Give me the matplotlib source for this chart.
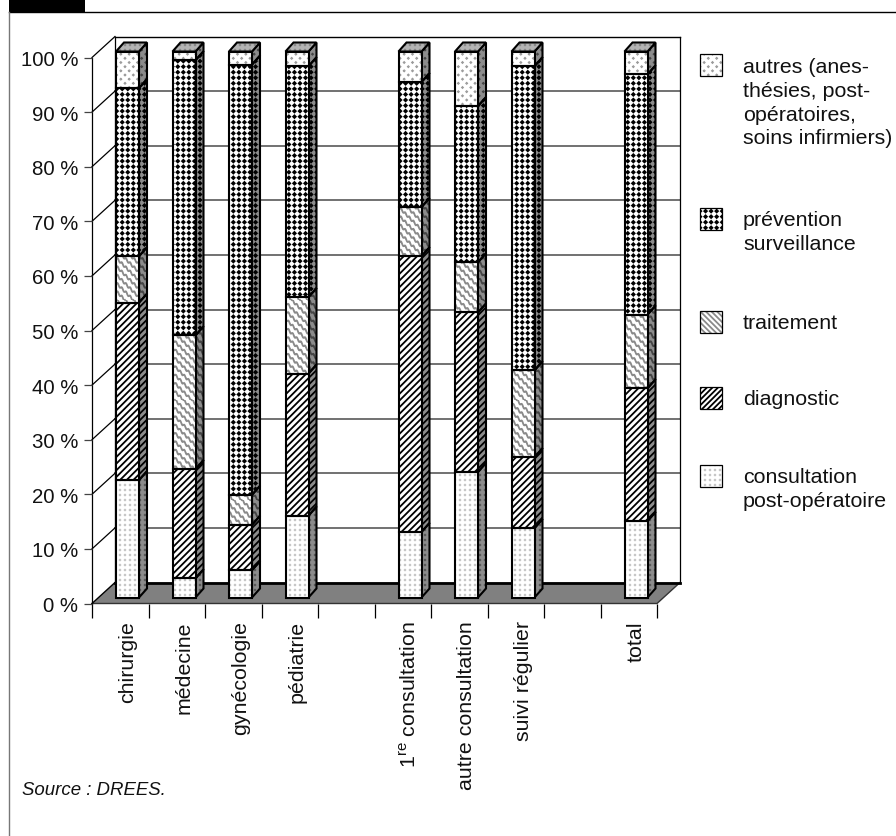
import warnings
import numpy as np
import matplotlib
matplotlib.use("Agg")
import matplotlib.pyplot as plt
import matplotlib.hatch as mhatch
from matplotlib.path import Path
from matplotlib.patches import Polygon, Rectangle

warnings.filterwarnings("ignore")

categories = ["chirurgie", "médecine", "gynécologie", "pédiatrie",
              r"1$\mathregular{^{re}}$ consultation", "autre consultation",
              "suivi régulier", "total"]
slots = [0, 1, 2, 3, 5, 6, 7, 9]
consultation = [21.5, 3.5, 5.0, 15.0, 12.0, 23.0, 12.7, 14.0]
diagnostic = [32.5, 20.0, 8.3, 26.0, 50.5, 29.2, 13.0, 24.3]
traitement = [8.5, 24.5, 5.5, 14.0, 9.0, 9.2, 15.9, 13.5]
prevention = [30.8, 50.4, 78.8, 42.3, 22.9, 28.6, 55.7, 44.0]
autres = [6.7, 1.6, 2.4, 2.7, 5.6, 10.0, 2.7, 4.2]
yticks = [0, 10, 20, 30, 40, 50, 60, 70, 80, 90, 100]
ytick_labels = [f"{v} %" for v in yticks]
legend_labels = ["autres (anes-\nthésies, post-\nopératoires,\nsoins infirmiers)",
                 "prévention\nsurveillance", "traitement", "diagnostic",
                 "consultation\npost-opératoire"]
source = "Source : DREES."

W, H = 896, 837
plt.rcParams["font.family"] = ["Liberation Sans", "DejaVu Sans"]
plt.rcParams["hatch.linewidth"] = 1.3


class Marks(mhatch.HatchPatternBase):
    """Tiled hatch patterns resembling the bitmap fills of the original."""
    def __init__(self, hatch, density):
        self.kind = next((c for c in "dwpa" if c in hatch), None)
        self.num_vertices = 0
        if self.kind is None:
            return
        self.verts, self.cods = self._build()
        self.num_vertices = len(self.verts)

    def _poly(self, cx, cy, r, n=4):
        a = np.linspace(0, 2 * np.pi, n, endpoint=False)
        v = [(cx + r * np.cos(t), cy + r * np.sin(t)) for t in a] + [(cx, cy)]
        return v, [Path.MOVETO] + [Path.LINETO] * (n - 1) + [Path.CLOSEPOLY]

    def _build(self):
        V, C = [], []
        if self.kind == "d":
            n = 18
            for i in range(n + 1):
                for j in range(n + 1):
                    v, c = self._poly(i / n, j / n, 0.013)
                    V += v
                    C += c
        elif self.kind == "w":
            n = 12
            t = np.linspace(0, 1, 24 * n + 1)
            for k in range(-n, n + 1):
                x = t + k / n
                y = 1 - t + 0.012 * np.sin(2 * np.pi * n * 2 * t)
                keep = (x >= -0.02) & (x <= 1.02)
                xs, ys = x[keep], y[keep]
                if len(xs) > 1:
                    V += list(zip(xs, ys))
                    C += [Path.MOVETO] + [Path.LINETO] * (len(xs) - 1)
        elif self.kind == "p":
            n = 20
            for i in range(n + 1):
                for j in range(n + 1):
                    v, c = self._poly(i / n, j / n, 0.002)
                    V += v
                    C += c
        elif self.kind == "a":
            n = 24
            for i in range(n + 1):
                for j in range(n + 1):
                    if (i + j) % 2 == 0:
                        v, c = self._poly(i / n, j / n, 0.004)
                        V += v
                        C += c
        return V, C

    def set_vertices_and_codes(self, vertices, codes):
        vertices[:] = self.verts
        codes[:] = self.cods


mhatch._hatch_types.append(Marks)

series = [
    (consultation, "p", "#b0b0b0", "p"),
    (diagnostic, "/////", "black", "//////"),
    (traitement, "w", "#8a8a8a", "\\\\\\\\\\\\"),
    (prevention, "d", "black", "d"),
    (autres, "a", "#9a9a9a", "a"),
]

fig = plt.figure(figsize=(W / 100, H / 100), dpi=100, facecolor="white")

# overlay in pixel coordinates for the page furniture and the legend
page = fig.add_axes([0, 0, 1, 1])
page.set_xlim(0, W)
page.set_ylim(H, 0)
page.axis("off")
page.add_patch(Rectangle((9, 0), 76, 12.5, fc="black", ec="none"))
page.plot([9, W], [12.5, 12.5], color="black", lw=1)
page.plot([9, 9], [12.5, H], color="#777777", lw=1)
page.text(22, 791, source, style="italic", fontsize=13.4, va="center", ha="left", color="#111111")

# main axes: 10 category slots, percent vertically
x0, x1, ytop, ybot = 92, 657, 58.5, 604.5
ax = fig.add_axes([x0 / W, 1 - ybot / H, (x1 - x0) / W, (ybot - ytop) / H])
ax.set_xlim(0, 10)
ax.set_ylim(0, 100)
ax.patch.set_alpha(0)
for s in ["top", "right", "bottom"]:
    ax.spines[s].set_visible(False)
ax.spines["left"].set_linewidth(0.9)
ax.set_yticks(yticks, ytick_labels, fontsize=14.7, color="#111111")
ax.tick_params(axis="y", length=6, width=0.9, pad=4, color="#444444")
ax.set_xticks(range(11), [""] * 11)
ax.tick_params(axis="x", which="major", length=10, width=0.9, color="black")
ax.set_xticks([s + 0.63 for s in slots], categories, minor=True, rotation=90, fontsize=15.4, color="#111111")
ax.tick_params(axis="x", which="minor", length=0, pad=12)
ax.set_axisbelow(False)

WX, WY = 23 / 56.5, 21 / 5.46        # wall depth
BX, BY = 24 / 56.5, 6 / 5.46         # bar offset from the front of the floor
BW = 23 / 56.5                       # bar width
DX, DY = 8 / 56.5, 9 / 5.46          # bar depth


def poly(pts, **kw):
    ax.add_patch(Polygon(pts, closed=True, clip_on=False, **kw))


# floor
poly([(0, 0), (10, 0), (10 + WX, WY), (WX, WY)], fc="#808080", ec="none", zorder=1)
ax.plot([0, 10, 10 + WX], [0, 0, WY], color="#333333", lw=1, clip_on=False, zorder=1.1)
ax.plot([WX, 10 + WX], [WY, WY], color="black", lw=2, clip_on=False, zorder=1.2)
ax.plot([0, WX], [0, WY], color="black", lw=1, clip_on=False, zorder=1.2)
# back wall
for v in yticks[1:]:
    ax.plot([WX, 10 + WX], [v + WY, v + WY], color="black" if v == 100 else "#666666",
            lw=1 if v == 100 else 1.3, clip_on=False, zorder=1)
    ax.plot([0, WX], [v, v + WY], color="black", lw=0.9, clip_on=False, zorder=1)
ax.plot([WX, WX], [WY, 100 + WY], color="black", lw=0.9, clip_on=False, zorder=1)
ax.plot([10 + WX, 10 + WX], [WY, 100 + WY], color="black", lw=0.9, clip_on=False, zorder=1)

# stacked bars
OUT = dict(fc="none", ec="black", lw=1.5, joinstyle="miter")
for k, s in enumerate(slots):
    left = s + BX
    bottom = 0.0
    z = 2
    for values, hatch, col, _ in series:
        v = values[k]
        a, b = bottom + BY, bottom + v + BY
        front = [(left, a), (left + BW, a), (left + BW, b), (left, b)]
        side = [(left + BW, a), (left + BW + DX, a + DY), (left + BW + DX, b + DY), (left + BW, b)]
        poly(side, fc="#8c8c8c", ec=col if col == "black" else "#444444", hatch=hatch, lw=0, zorder=z)
        poly(side, zorder=z + 0.1, **OUT)
        poly(front, fc="white", ec=col, hatch=hatch, lw=0, zorder=z + 0.2)
        poly(front, zorder=z + 0.3, **OUT)
        bottom += v
    top = [(left, bottom + BY), (left + BW, bottom + BY),
           (left + BW + DX, bottom + BY + DY), (left + DX, bottom + BY + DY)]
    poly(top, fc="#b4b4b4", ec="#777777", hatch="p", lw=0, zorder=z + 0.4)
    poly(top, zorder=z + 0.5, **OUT)

# legend
sw_y = [55, 209, 312, 388, 466]
txt_y = [58, 211, 314, 390, 468]
for (values, _, col, hatch), label, sy, ty in zip(series[::-1], legend_labels, sw_y, txt_y):
    page.add_patch(Rectangle((700, sy), 22, 22, fc="white", ec=col, hatch=hatch, lw=0))
    page.add_patch(Rectangle((700, sy), 22, 22, fc="none", ec="black", lw=0.9))
    page.text(743, ty, label, fontsize=15.4, va="top", ha="left", color="#111111", linespacing=1.32)

fig.savefig("out.png", dpi=100, facecolor="white")
